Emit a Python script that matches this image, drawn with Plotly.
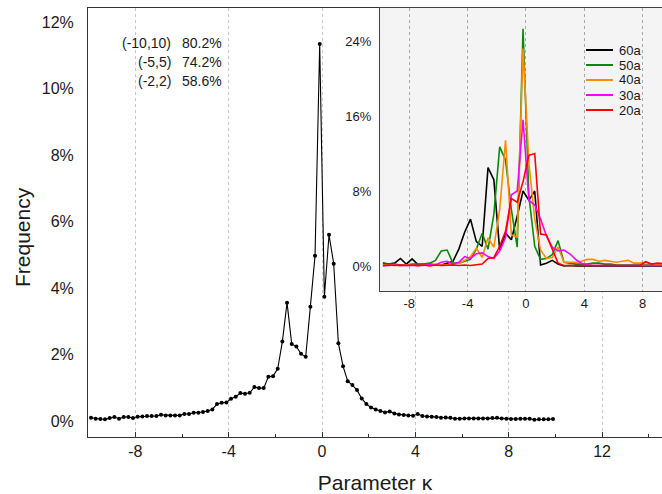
import plotly.graph_objects as go

# ---------------- data ----------------
kappa = [-9.9, -9.7, -9.5, -9.3, -9.1, -8.9, -8.7, -8.5, -8.3, -8.1,
         -7.9, -7.7, -7.5, -7.3, -7.1, -6.9, -6.7, -6.5, -6.3, -6.1,
         -5.9, -5.7, -5.5, -5.3, -5.1, -4.9, -4.7, -4.5, -4.3, -4.1,
         -3.9, -3.7, -3.5, -3.3, -3.1, -2.9, -2.7, -2.5, -2.3, -2.1,
         -1.9, -1.7, -1.5, -1.3, -1.1, -0.9, -0.7, -0.5, -0.3, -0.1,
         0.1, 0.3, 0.5, 0.7, 0.9, 1.1, 1.3, 1.5, 1.7, 1.9,
         2.1, 2.3, 2.5, 2.7, 2.9, 3.1, 3.3, 3.5, 3.7, 3.9,
         4.1, 4.3, 4.5, 4.7, 4.9, 5.1, 5.3, 5.5, 5.7, 5.9,
         6.1, 6.3, 6.5, 6.7, 6.9, 7.1, 7.3, 7.5, 7.7, 7.9,
         8.1, 8.3, 8.5, 8.7, 8.9, 9.1, 9.3, 9.5, 9.7, 9.9]

freq = [0.10, 0.07, 0.06, 0.05, 0.09, 0.12, 0.07, 0.12, 0.12, 0.09,
        0.13, 0.14, 0.15, 0.15, 0.15, 0.19, 0.17, 0.17, 0.17, 0.17,
        0.21, 0.21, 0.25, 0.25, 0.27, 0.30, 0.35, 0.51, 0.55, 0.56,
        0.67, 0.73, 0.84, 0.82, 0.85, 1.02, 0.99, 0.99, 1.33, 1.35,
        1.57, 2.39, 3.56, 2.32, 2.24, 2.02, 1.93, 3.44, 4.97, 11.34,
        3.74, 5.60, 4.73, 2.34, 1.65, 1.20, 1.08, 0.93, 0.68, 0.51,
        0.41, 0.35, 0.30, 0.26, 0.29, 0.23, 0.20, 0.18, 0.17, 0.16,
        0.21, 0.15, 0.14, 0.13, 0.12, 0.10, 0.11, 0.10, 0.07, 0.07,
        0.08, 0.08, 0.08, 0.08, 0.08, 0.08, 0.09, 0.10, 0.08, 0.07,
        0.06, 0.06, 0.07, 0.07, 0.07, 0.04, 0.05, 0.05, 0.05, 0.06]

range_labels = ["(-10,10)", "(-5,5)", "(-2,2)"]
range_shares = ["80.2%", "74.2%", "58.6%"]

inset_kappa = [-9.8, -9.4, -9.0, -8.6, -8.2, -7.8, -7.4, -7.0, -6.6, -6.2,
               -5.8, -5.4, -5.0, -4.6, -4.2, -3.8, -3.4, -3.0, -2.6, -2.2,
               -1.8, -1.4, -1.0, -0.6, -0.2, 0.2, 0.6, 1.0, 1.4, 1.8,
               2.2, 2.6, 3.0, 3.4, 3.8, 4.2, 4.6, 5.0, 5.4, 5.8,
               6.2, 6.6, 7.0, 7.4, 7.8, 8.2, 8.6, 9.0, 9.4, 9.8]

age_names = ["60a", "50a", "40a", "30a", "20a"]
age_colors = ["#000000", "#0a8a0a", "#ff8c00", "#ff00ff", "#ff0000"]

f60 = [0.3, 0.2, 0.3, 0.8, 0.2, 0.75, 0.15, 0.2, 0.2, 0.1,
       0.1, 0.3, 0.5, 1.8, 3.6, 5.0, 2.6, 2.1, 10.5, 9.2,
       1.7, 3.5, 2.8, 5.3, 8.0, 7.0, 8.0, 0.1, 0.3, 0.6,
       0.2, 0.0, 0.05, 0.0, 0.0, 0.05, 0.0, 0.0, 0.05, 0.0,
       0.0, 0.0, 0.05, 0.0, 0.0, 0.0, 0.0, 0.05, 0.0, 0.0]
f50 = [0.2, 0.2, 0.2, 0.1, 0.1, 0.2, 0.2, 0.2, 0.3, 0.6,
       1.6, 1.7, 0.3, 0.3, 0.5, 0.7, 1.8, 3.5, 1.8, 5.5,
       12.7, 11.3, 6.0, 2.0, 25.3, 7.5, 2.1, 0.7, 0.8, 1.2,
       2.7, 0.4, 0.3, 0.2, 0.2, 0.2, 0.3, 0.3, 0.2, 0.2,
       0.1, 0.1, 0.1, 0.1, 0.1, 0.1, 0.1, 0.1, 0.1, 0.1]
f40 = [0.1, 0.1, 0.1, 0.0, 0.1, 0.1, 0.0, 0.1, 0.1, 0.2,
       0.1, 0.1, 0.2, 0.3, 0.6, 1.0, 1.9, 0.9, 3.0, 2.0,
       6.0, 13.4, 3.3, 3.1, 23.2, 11.0, 5.0, 1.7, 0.8, 0.9,
       2.0, 0.4, 0.4, 0.4, 0.5, 0.7, 0.7, 0.5, 0.6, 0.5,
       0.4, 0.5, 0.6, 0.3, 0.3, 0.4, 0.2, 0.2, 0.1, 0.1]
f30 = [0.0, 0.05, 0.1, 0.05, 0.05, 0.1, 0.1, 0.05, 0.2, 0.1,
       0.4, 0.5, 0.2, 0.4, 1.0, 0.8, 1.3, 1.4, 1.0, 0.8,
       1.6, 3.0, 7.6, 8.0, 15.6, 7.0, 6.5, 5.0, 3.2, 2.0,
       1.6, 1.7, 1.3, 0.7, 0.3, 0.1, 0.05, 0.05, 0.05, 0.05,
       0.05, 0.05, 0.05, 0.05, 0.05, 0.05, 0.05, 0.05, 0.05, 0.05]
f20 = [0.05, 0.1, 0.05, 0.1, 0.05, 0.1, 0.05, 0.1, 0.0, 0.1,
       0.05, 0.1, 0.1, 0.05, 0.1, 0.05, 0.1, 0.2, 0.8, 0.9,
       2.1, 3.7, 7.2, 6.8, 9.0, 11.8, 12.0, 3.4, 3.3, 1.8,
       0.3, 0.05, 0.05, 0.05, 0.05, 0.05, 0.05, 0.05, 0.05, 0.05,
       0.05, 0.05, 0.05, 0.05, 0.05, 0.45, 0.2, 0.3, 0.2, 0.2]
age_series = [f60, f50, f40, f30, f20]

main_ticks = [-8, -4, 0, 4, 8, 12]
main_ticktext = ["-8", "-4", "0", "4", "8", "12"]
main_yticks = [0, 2, 4, 6, 8, 10, 12]
main_yticktext = ["0%", "2%", "4%", "6%", "8%", "10%", "12%"]
inset_ticks = [-8, -4, 0, 4, 8]
inset_ticktext = ["-8", "-4", "0", "4", "8"]
inset_yticks = [0, 8, 16, 24]
inset_yticktext = ["0%", "8%", "16%", "24%"]

x_title = "Parameter κ"
y_title = "Frequency"

# ---------------- figure ----------------
FONT = "Arial, Liberation Sans, sans-serif"
W, H = 662, 494
ML, MR, MT, MB = 88, 0, 8, 57
PW, PH = W - ML - MR, H - MT - MB


def px(xp):
    return (xp - ML) / PW


def py(yp):
    return (H - MB - yp) / PH


fig = go.Figure()
fig.add_trace(go.Scatter(
    x=kappa, y=freq, mode="lines+markers",
    line=dict(color="black", width=1.1),
    marker=dict(color="black", size=4),
    xaxis="x", yaxis="y", showlegend=False))

for name, ys, col in zip(age_names, age_series, age_colors):
    fig.add_trace(go.Scatter(
        x=inset_kappa, y=ys, mode="lines", name=name,
        line=dict(color=col, width=1.6),
        xaxis="x2", yaxis="y2", showlegend=False))

inset_xr = [-10.0, 9.32]
inset_yr = [-2.67, 27.52]

shapes = [dict(type="rect", xref="x2", yref="y2",
               x0=inset_xr[0], x1=inset_xr[1], y0=inset_yr[0], y1=inset_yr[1],
               fillcolor="#f4f4f4", line=dict(width=0), layer="below")]

annotations = []
rows_y = [43, 62, 81]
for lab, val, yy in zip(range_labels, range_shares, rows_y):
    annotations.append(dict(x=px(173), y=py(yy), xref="paper", yref="paper",
                            text=lab, showarrow=False, xanchor="right", yanchor="middle",
                            font=dict(family=FONT, size=14, color="#1a1a1a")))
    annotations.append(dict(x=px(224), y=py(yy), xref="paper", yref="paper",
                            text=val, showarrow=False, xanchor="right", yanchor="middle",
                            font=dict(family=FONT, size=14, color="#1a1a1a")))

# y-axis title (placed slightly below centre, as in the original)
annotations.append(dict(x=px(22), y=py(237), xref="paper", yref="paper",
                        text=y_title, showarrow=False, textangle=-90,
                        xanchor="center", yanchor="middle",
                        font=dict(family=FONT, size=21, color="#1a1a1a")))

# manual legend inside the inset
leg_y = [50, 65, 80, 95, 110]
for name, col, yy in zip(age_names, age_colors, leg_y):
    shapes.append(dict(type="line", xref="paper", yref="paper",
                       x0=px(586), x1=px(613), y0=py(yy), y1=py(yy),
                       line=dict(color=col, width=2), layer="above"))
    annotations.append(dict(x=px(617), y=py(yy), xref="paper", yref="paper",
                            text=name, showarrow=False, xanchor="left", yanchor="middle",
                            font=dict(family=FONT, size=13, color="#1a1a1a")))

fig.update_layout(
    width=W, height=H, autosize=False,
    margin=dict(l=ML, r=MR, t=MT, b=MB, pad=0),
    paper_bgcolor="white", plot_bgcolor="white",
    font=dict(family=FONT, size=16, color="#1a1a1a"),
    shapes=shapes, annotations=annotations,
    xaxis=dict(domain=[0, 1], anchor="y", range=[-10.03, 14.57],
               tickvals=main_ticks, ticktext=main_ticktext,
               ticks="inside", ticklen=5, tickcolor="#333", tickwidth=1,
               minor=dict(tickvals=[-6, -2, 2, 6, 10, 14], ticks="inside",
                          ticklen=3, tickcolor="#333", showgrid=False),
               showgrid=True, gridcolor="#c8c8c8", griddash="3px,3px", gridwidth=1,
               showline=True, linecolor="#333", linewidth=1, mirror=True,
               zeroline=False, tickfont=dict(size=16),
               title=dict(text=x_title, font=dict(size=21), standoff=16),
               automargin=False),
    yaxis=dict(domain=[0, 1], anchor="x", range=[-0.48, 12.42],
               tickvals=main_yticks, ticktext=main_yticktext,
               ticks="", showgrid=False, zeroline=False,
               showline=True, linecolor="#333", linewidth=1, mirror=False,
               tickfont=dict(size=16), ticklabelstandoff=10,
               automargin=False),
    xaxis2=dict(domain=[px(380), 1], anchor="y2", range=inset_xr,
                tickvals=inset_ticks, ticktext=inset_ticktext,
                ticks="", showgrid=True, gridcolor="#a8a8a8", griddash="dot", gridwidth=1,
                showline=True, linecolor="#444", linewidth=1, mirror=True,
                zeroline=False, tickfont=dict(size=13), automargin=False),
    yaxis2=dict(domain=[py(291), 1], anchor="x2", range=inset_yr,
                tickvals=inset_yticks, ticktext=inset_yticktext,
                ticks="", showgrid=False, zeroline=False,
                showline=True, linecolor="#444", linewidth=1, mirror=False,
                tickfont=dict(size=13), ticklabelstandoff=5, automargin=False),
)

fig.write_html("out.html")
